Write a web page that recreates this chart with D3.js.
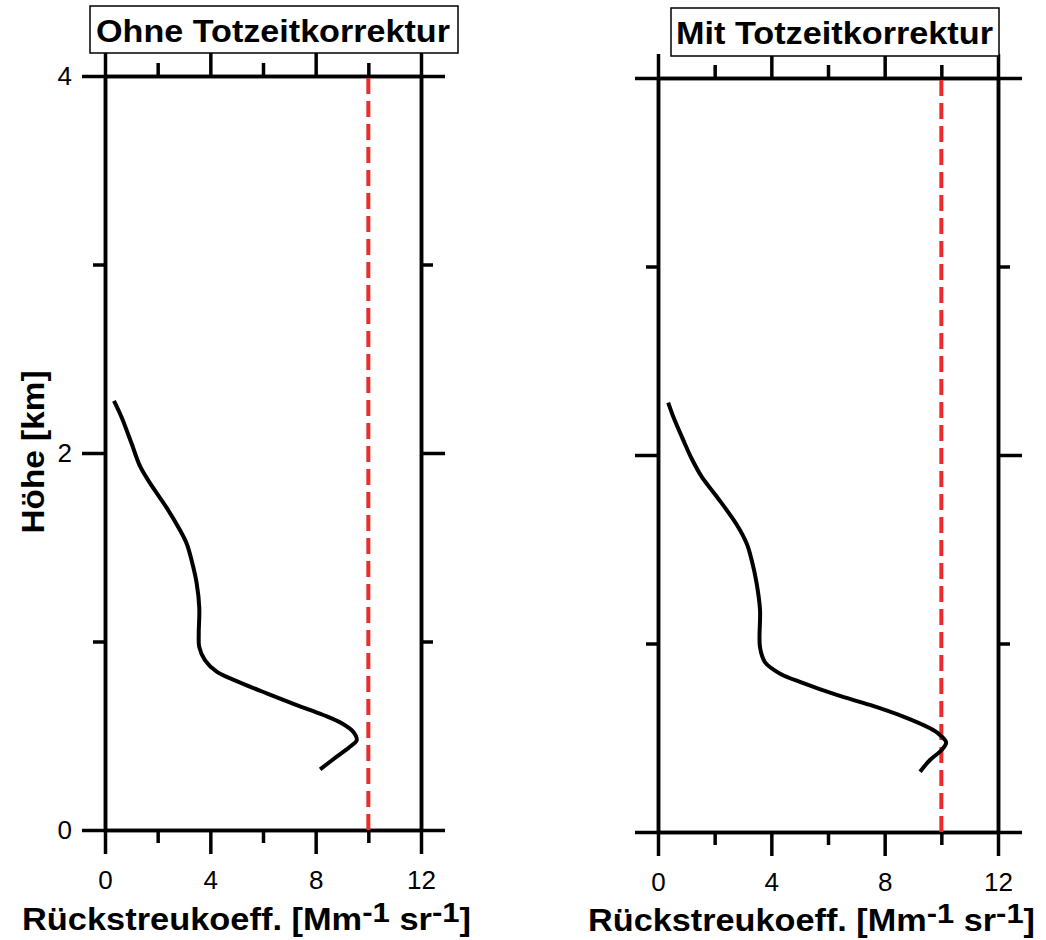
<!DOCTYPE html>
<html><head><meta charset="utf-8">
<script src="https://cdn.jsdelivr.net/npm/d3@7"></script>
<style>body{margin:0;background:#fff}svg{display:block}text{font-family:"Liberation Sans",Arial,sans-serif}</style>
</head><body>
<svg id="c" width="1046" height="940"></svg>
<script>
// ---- data ----
const titles = ["Ohne Totzeitkorrektur", "Mit Totzeitkorrektur"];
const xMajorTicks = [0, 4, 8, 12];
const xMinorTicks = [2, 6, 10];
const yMajorTicks = [0, 2, 4];
const yMinorTicks = [1, 3];
const refValue = 10;
const heightOhne = [2.277,2.19,2.05,1.93,1.84,1.71,1.59,1.52,1.43,1.31,1.18,1.04,0.97,0.90,0.84,0.79,0.725,0.663,0.61,0.566,0.52,0.477,0.442,0.389,0.322];
const valueOhne  = [0.34,0.63,1.01,1.33,1.71,2.34,2.85,3.10,3.29,3.48,3.58,3.56,3.58,3.80,4.24,5.0,6.14,7.28,8.29,8.99,9.43,9.56,9.30,8.80,8.17];
const heightMit  = [2.278,2.203,2.08,1.98,1.885,1.78,1.63,1.53,1.44,1.32,1.18,0.98,0.90,0.84,0.79,0.727,0.674,0.612,0.55,0.515,0.474,0.435,0.382,0.32];
const valueMit   = [0.36,0.54,0.89,1.19,1.54,2.07,2.78,3.13,3.31,3.48,3.60,3.60,3.78,4.31,5.13,6.31,7.48,8.66,9.60,9.95,10.17,10.01,9.60,9.25];
const xLabel = ["Rückstreukoeff. [Mm", "-1", " sr", "-1", "]"];
const yLabel = "Höhe [km]";

// ---- layout ----
const svg = d3.select("#c");
const panels = [
  {title: titles[0], h: heightOhne, v: valueOhne, left: 105, right: 421, top: 76, bottom: 830,
   box: [90, 6, 368, 47], tx: 96, ty: 42, tw: 354, labX: 22, labY: 930, labW: 449, yLabels: true},
  {title: titles[1], h: heightMit, v: valueMit, left: 658, right: 998, top: 78, bottom: 832,
   box: [671, 8, 328, 48], tx: 676, ty: 44, tw: 317, labX: 588, labY: 931, labW: 447, yLabels: false}
];

panels.forEach(p => {
  const x = d3.scaleLinear().domain([0, 12]).range([p.left, p.right]);
  const y = d3.scaleLinear().domain([0, 4]).range([p.bottom, p.top]);
  const g = svg.append("g");

  function axis(gen, tx, ty, vals, size, labels, pad) {
    const a = gen.tickValues(vals).tickSize(size).tickSizeOuter(0);
    if (!labels) a.tickFormat(() => ""); else a.tickFormat(d3.format("d")).tickPadding(pad);
    const ag = g.append("g").attr("transform", `translate(${tx},${ty})`).call(a);
    ag.attr("font-size", 26).attr("font-family", "Liberation Sans, Arial, sans-serif");
    ag.selectAll("path").attr("stroke", "#000").attr("stroke-width", 3.5);
    ag.selectAll("line").attr("stroke", "#000").attr("stroke-width", 3.5);
    ag.selectAll("text").attr("fill", "#000");
    return ag;
  }
  // minor ticks
  axis(d3.axisBottom(x), 0, p.bottom, xMinorTicks, 13, false);
  axis(d3.axisTop(x), 0, p.top, xMinorTicks, 13, false);
  axis(d3.axisLeft(y), p.left, 0, yMinorTicks, 12, false);
  axis(d3.axisRight(y), p.right, 0, yMinorTicks, 12, false);
  // major ticks
  axis(d3.axisBottom(x), 0, p.bottom, xMajorTicks, 24, true, 17);
  axis(d3.axisTop(x), 0, p.top, xMajorTicks, 24, false);
  axis(d3.axisLeft(y), p.left, 0, yMajorTicks, 23, p.yLabels, 10);
  axis(d3.axisRight(y), p.right, 0, yMajorTicks, 24, false);

  // reference dashed line
  g.append("line")
    .attr("x1", x(refValue)).attr("x2", x(refValue))
    .attr("y1", y(4) + 2).attr("y2", y(0))
    .attr("stroke", "#ee2a2a").attr("stroke-width", 4)
    .attr("stroke-dasharray", "16,7");

  // profile
  const pts = p.h.map((h, i) => [p.v[i], h]);
  g.append("path")
    .datum(pts)
    .attr("fill", "none").attr("stroke", "#000").attr("stroke-width", 4)
    .attr("stroke-linejoin", "round")
    .attr("d", d3.line().x(d => x(d[0])).y(d => y(d[1])).curve(d3.curveCatmullRom.alpha(0.5)));

  // title box
  g.append("rect").attr("x", p.box[0]).attr("y", p.box[1]).attr("width", p.box[2]).attr("height", p.box[3])
    .attr("fill", "#fff").attr("stroke", "#000").attr("stroke-width", 1.5);
  g.append("text").attr("x", p.tx).attr("y", p.ty)
    .attr("font-size", 32).attr("font-weight", "bold")
    .attr("textLength", p.tw).attr("lengthAdjust", "spacingAndGlyphs")
    .text(p.title);

  // x label
  const t = g.append("text").attr("x", p.labX).attr("y", p.labY)
    .attr("font-size", 31).attr("font-weight", "bold")
    .attr("textLength", p.labW).attr("lengthAdjust", "spacingAndGlyphs");
  t.append("tspan").text(xLabel[0]);
  t.append("tspan").attr("dy", -8).attr("font-size", 28).text(xLabel[1]);
  t.append("tspan").attr("dy", 8).text(xLabel[2]);
  t.append("tspan").attr("dy", -8).attr("font-size", 28).text(xLabel[3]);
  t.append("tspan").attr("dy", 8).text(xLabel[4]);

  if (p.yLabels) {
    g.append("text").attr("transform", `translate(44,452) rotate(-90)`)
      .attr("text-anchor", "middle").attr("font-size", 32).attr("font-weight", "bold")
      .attr("textLength", 163).attr("lengthAdjust", "spacingAndGlyphs")
      .text(yLabel);
  }
});
</script>
</body></html>
